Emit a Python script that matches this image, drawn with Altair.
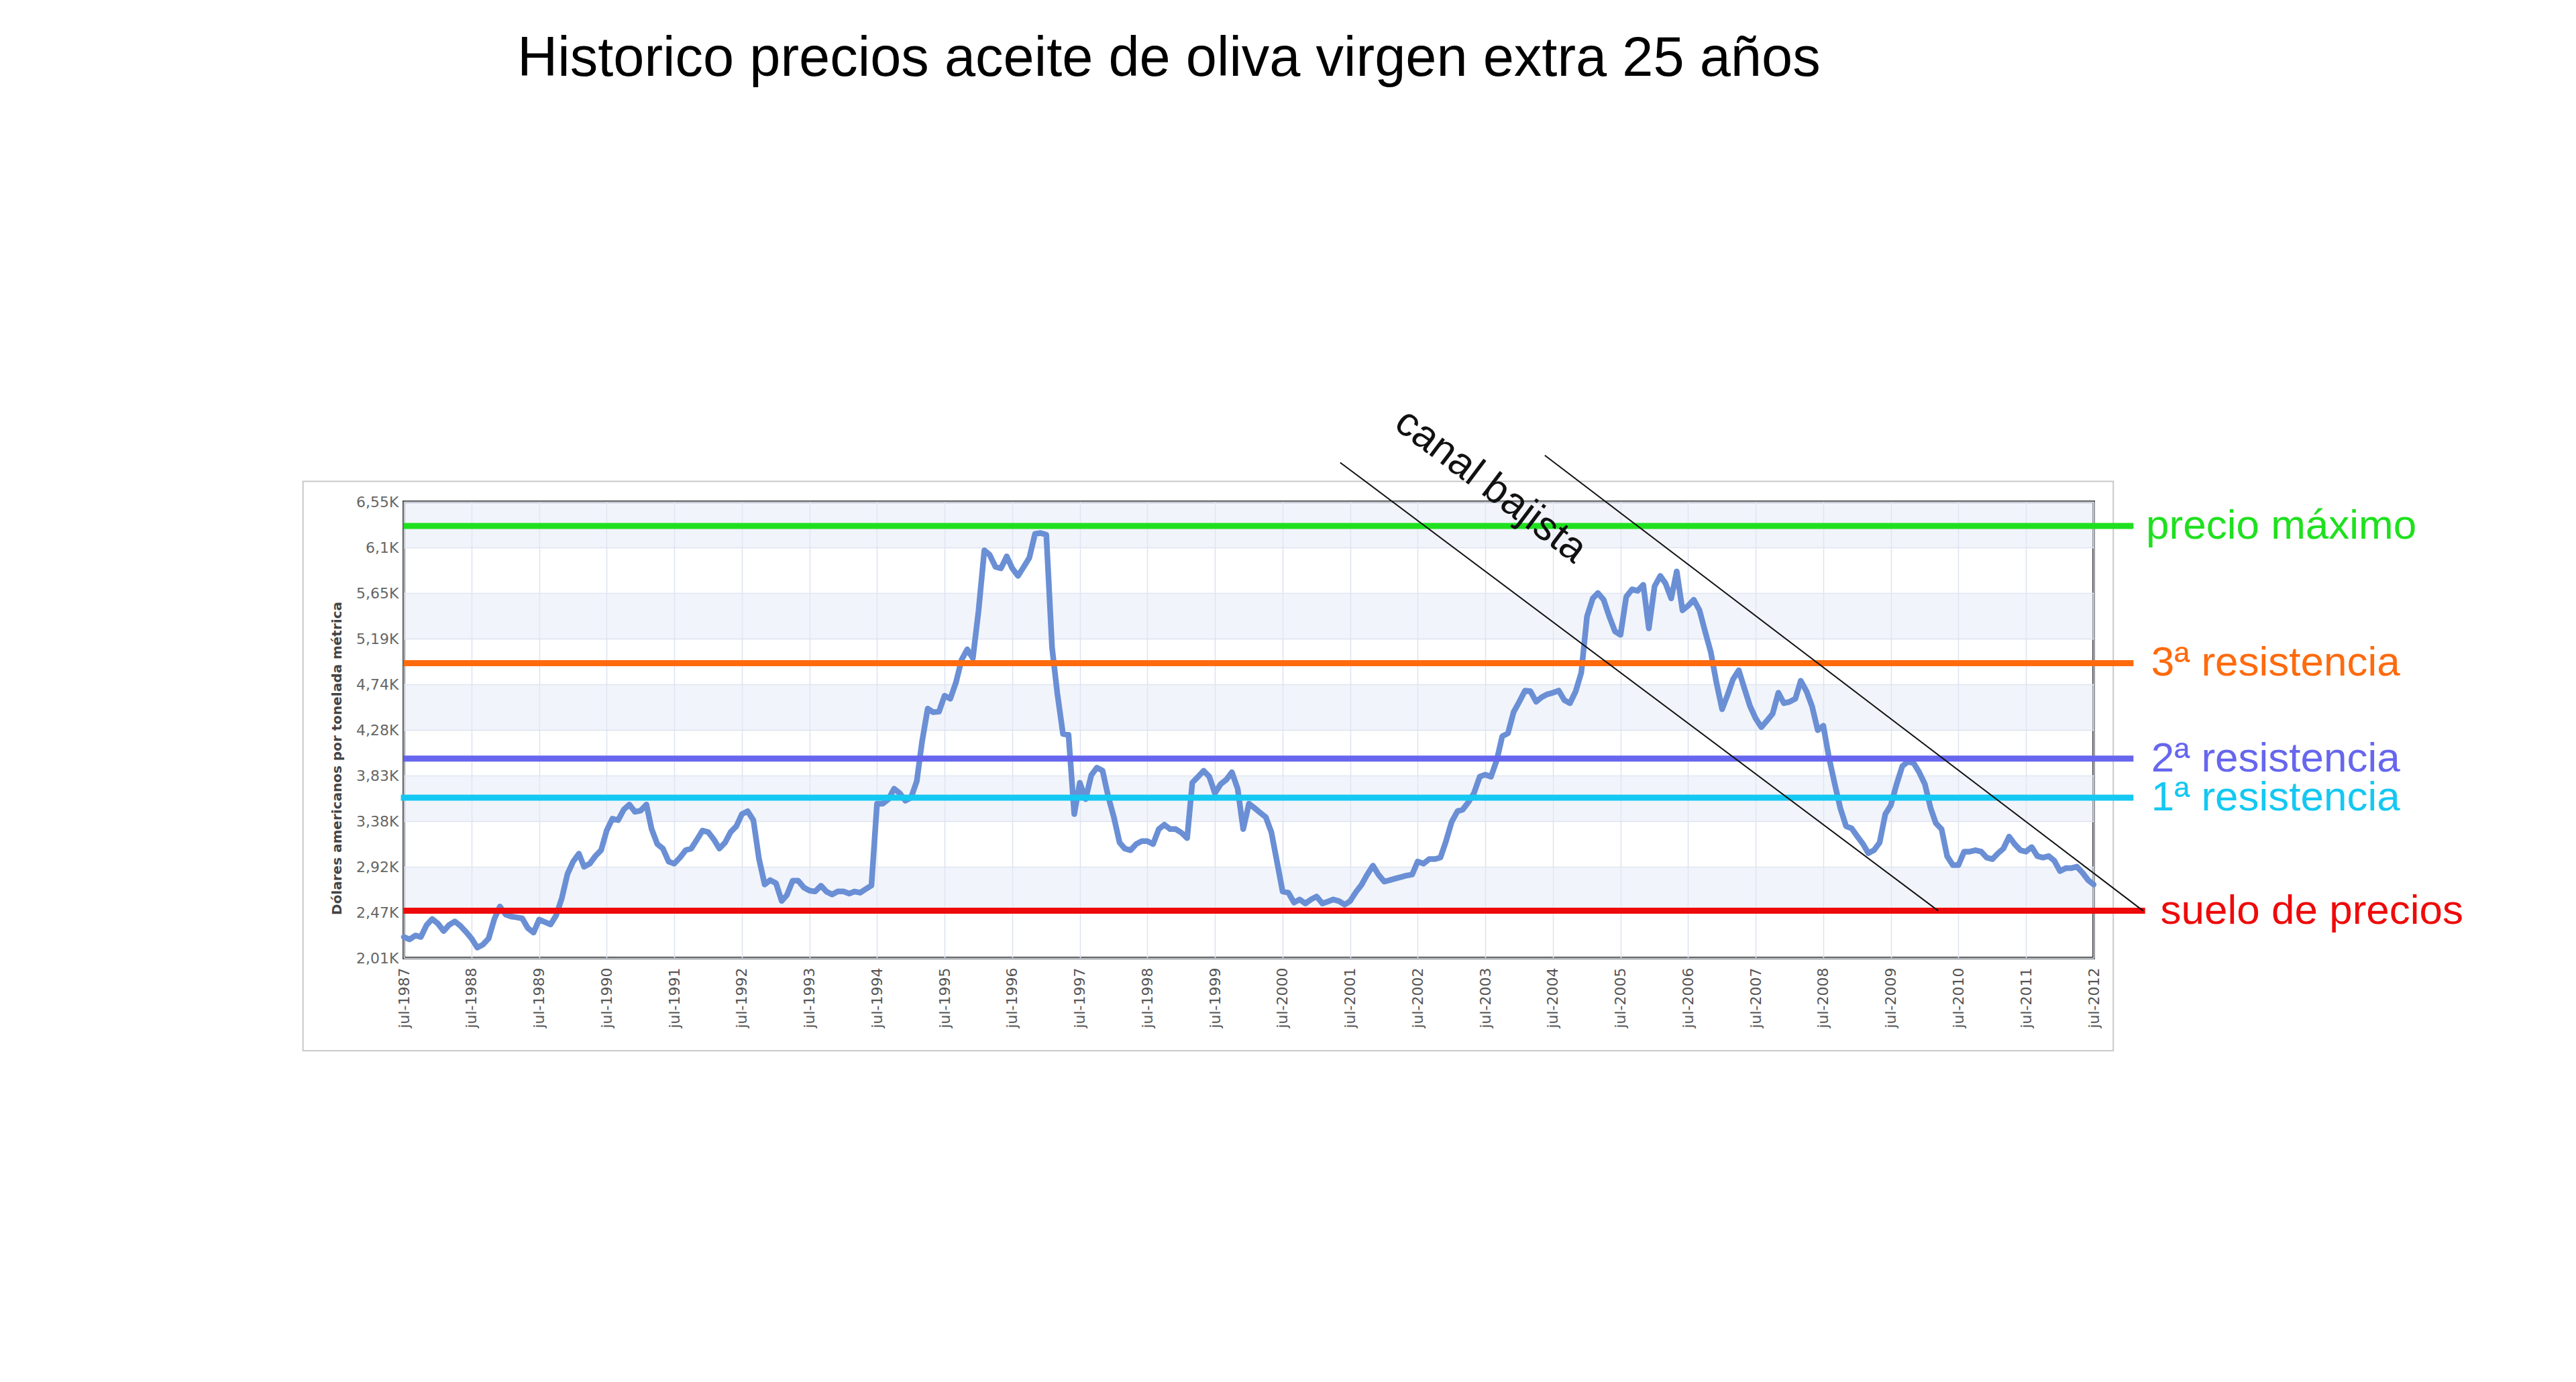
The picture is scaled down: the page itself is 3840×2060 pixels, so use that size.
import json
import altair as alt
import pandas as pd

# ---------------- data ----------------
START_MONTH = "1987-07-01"   # monthly series, jul-1987 .. jul-2012
price = [
    2219, 2195, 2234, 2219, 2338, 2398, 2353, 2278, 2338, 2374, 2332, 2270,
    2204, 2114, 2144, 2204, 2398, 2523, 2443, 2422, 2415, 2404, 2308, 2263,
    2392, 2368, 2344, 2434, 2607, 2845, 2970, 3048, 2918, 2949, 3024, 3083,
    3278, 3397, 3382, 3486, 3537, 3465, 3477, 3537, 3293, 3143, 3099, 2970,
    2949, 3009, 3083, 3099, 3188, 3278, 3263, 3188, 3099, 3158, 3263, 3322,
    3442, 3471, 3382, 3000, 2741, 2785, 2755, 2577, 2636, 2779, 2779, 2711,
    2681, 2672, 2730, 2670, 2642, 2672, 2672, 2651, 2672, 2660, 2696, 2732,
    3546, 3546, 3591, 3695, 3650, 3576, 3606, 3770, 4158, 4492, 4456, 4462,
    4620, 4590, 4754, 4978, 5082, 4993, 5470, 6067, 6022, 5903, 5888, 6007,
    5888, 5813, 5903, 5992, 6231, 6240, 6222, 5100, 4650, 4240, 4232, 3442,
    3755, 3591, 3829, 3904, 3874, 3621, 3412, 3158, 3099, 3083, 3143, 3173,
    3173, 3143, 3293, 3337, 3293, 3293, 3257, 3203, 3755, 3814, 3874, 3814,
    3650, 3740, 3785, 3859, 3695, 3293, 3546, 3501, 3457, 3412, 3263, 2964,
    2672, 2660, 2562, 2592, 2553, 2592, 2622, 2553, 2571, 2592, 2577, 2541,
    2577, 2666, 2740, 2840, 2929, 2840, 2771, 2785, 2800, 2815, 2830, 2840,
    2970, 2949, 2994, 2994, 3010, 3173, 3367, 3471, 3486, 3561, 3650, 3814,
    3835, 3814, 3978, 4217, 4247, 4456, 4560, 4671, 4665, 4560, 4605, 4635,
    4650, 4671, 4575, 4546, 4665, 4850, 5410, 5589, 5642, 5575, 5410, 5261,
    5226, 5604, 5679, 5664, 5724, 5291, 5709, 5813, 5739, 5589, 5858, 5470,
    5515, 5575, 5470, 5261, 5053, 4754, 4486, 4635, 4784, 4874, 4695, 4516,
    4396, 4307, 4373, 4441, 4650, 4546, 4560, 4590, 4769, 4665, 4516, 4277,
    4322, 4000, 3740, 3501, 3322, 3300, 3220, 3143, 3054, 3083, 3158, 3442,
    3531, 3740, 3919, 3964, 3949, 3859, 3740, 3501, 3352, 3293, 3024, 2934,
    2934, 3069, 3069, 3083, 3069, 3009, 2994, 3054, 3099, 3218, 3143, 3083,
    3069, 3114, 3024, 3009, 3024, 2979, 2875, 2904, 2904, 2919, 2860, 2785,
    2741,
]

y_tick_values = [2010, 2464, 2918, 3372, 3826, 4280, 4734, 5188, 5642, 6096, 6550]
y_tick_labels = ["2,01K", "2,47K", "2,92K", "3,38K", "3,83K", "4,28K",
                 "4,74K", "5,19K", "5,65K", "6,1K", "6,55K"]
x_tick_years = list(range(1987, 2013))

band_lo = [2464, 3372, 4280, 5188, 6096]
band_hi = [2918, 3826, 4734, 5642, 6550]

level_names = ["precio máximo", "3ª resistencia", "2ª resistencia",
               "1ª resistencia", "suelo de precios"]
level_values = [6310, 4945, 3995, 3605, 2480]
level_start = ["1987-07-01", "1987-07-01", "1987-07-01", "1987-06-15", "1987-07-01"]
level_end = ["2013-02-01", "2013-02-01", "2013-02-01", "2013-02-01", "2013-04-05"]
level_label_date = ["2013-04-10", "2013-05-08", "2013-05-08", "2013-05-08", "2013-06-27"]
level_colors = ["#1fe01f", "#ff6a0d", "#6666ee", "#14c8f2", "#ee0a0a"]

channel_start_date = ["2001-05-08", "2004-05-18"]
channel_start_value = [6941, 7012]
channel_end_date = ["2010-03-14", "2013-03-25"]
channel_end_value = [2480, 2480]

channel_label = ["canal bajista"]
channel_label_date = ["2003-07-30"]
channel_label_value = [6707]

frame_dates = ["1986-01-02", "2012-10-15"]
frame_values = [1087, 6754]

TITLE = "Historico precios aceite de oliva virgen extra 25 años"
Y_TITLE = "Dólares americanos por tonelada métrica"

# ---------------- tables ----------------
df_price = pd.DataFrame({
    "fecha": pd.date_range(START_MONTH, periods=len(price), freq="MS"),
    "precio": price,
})
df_bands = pd.DataFrame({
    "start": pd.to_datetime([START_MONTH] * len(band_lo)),
    "end": pd.to_datetime(["2012-07-01"] * len(band_lo)),
    "lo": band_lo, "hi": band_hi,
})
df_levels = pd.DataFrame({
    "name": level_names, "value": level_values,
    "start": pd.to_datetime(level_start), "end": pd.to_datetime(level_end),
    "label_date": pd.to_datetime(level_label_date),
})
df_channel = pd.DataFrame({
    "d0": pd.to_datetime(channel_start_date), "v0": channel_start_value,
    "d1": pd.to_datetime(channel_end_date), "v1": channel_end_value,
})
df_chlabel = pd.DataFrame({
    "d": pd.to_datetime(channel_label_date), "v": channel_label_value,
    "t": channel_label,
})
df_frame = pd.DataFrame({
    "d0": pd.to_datetime([frame_dates[0]]), "d1": pd.to_datetime([frame_dates[1]]),
    "v0": [frame_values[0]], "v1": [frame_values[1]],
})

x_scale = alt.Scale(domain=[alt.DateTime(year=1987, month=7, date=1),
                            alt.DateTime(year=2012, month=7, date=1)])
y_scale = alt.Scale(domain=[y_tick_values[0], y_tick_values[-1]], nice=False, zero=False)

x_axis = alt.Axis(
    values=[alt.DateTime(year=y, month=7, date=1) for y in x_tick_years],
    labelExpr="'jul-' + timeFormat(datum.value, '%Y')",
    labelAngle=270, labelAlign="right", labelBaseline="middle",
    labelFont="DejaVu Sans", labelFontSize=22, labelColor="#555555",
    labelPadding=14, ticks=False, domain=False, grid=True,
    gridColor="#dce2ef", gridWidth=1.5, title=None, labelOverlap=False,
)
y_axis = alt.Axis(
    values=y_tick_values,
    labelExpr=f"{json.dumps(y_tick_labels)}[indexof({json.dumps(y_tick_values)}, datum.value)]",
    labelFont="DejaVu Sans", labelFontSize=22, labelColor="#666666",
    labelPadding=8, ticks=False, domain=False, grid=True,
    gridColor="#dce2ef", gridWidth=1.5,
    title=Y_TITLE, titleFont="DejaVu Sans", titleFontSize=20,
    titleFontWeight="bold", titleColor="#444444", titlePadding=18,
    titleY=382, labelOverlap=False,
)


def X(field):
    return alt.X(field, scale=x_scale, axis=x_axis)


def Y(field):
    return alt.Y(field, scale=y_scale, axis=y_axis)


level_color = alt.Color("name:N", scale=alt.Scale(domain=level_names, range=level_colors),
                        legend=None)

frame = alt.Chart(df_frame).mark_rect(fillOpacity=0, stroke="#c8c8c8", strokeWidth=2).encode(
    x=X("d0:T"), x2="d1:T", y=Y("v0:Q"), y2="v1:Q",
)

bands = alt.Chart(df_bands).mark_rect(color="#e4e9f6", opacity=0.5).encode(
    x=X("start:T"), x2="end:T", y=Y("lo:Q"), y2="hi:Q",
)

line = alt.Chart(df_price).mark_line(
    color="#6a8fd5", strokeWidth=8.5, strokeJoin="round", strokeCap="round"
).encode(x=X("fecha:T"), y=Y("precio:Q"))

levels = alt.Chart(df_levels).mark_rule(strokeWidth=9).encode(
    x=X("start:T"), x2="end:T", y=Y("value:Q"), color=level_color,
)

level_text = alt.Chart(df_levels).mark_text(
    align="left", baseline="middle", font="Liberation Sans", fontSize=62
).encode(
    x=X("label_date:T"), y=Y("value:Q"), text="name:N", color=level_color,
)

channel = alt.Chart(df_channel).mark_rule(color="#111111", strokeWidth=2).encode(
    x=X("d0:T"), x2="d1:T", y=Y("v0:Q"), y2="v1:Q",
)

channel_text = alt.Chart(df_chlabel).mark_text(
    angle=37, font="Liberation Sans", fontSize=61, color="#111111",
    align="center", baseline="middle",
).encode(x=X("d:T"), y=Y("v:Q"), text="t:N")

chart = alt.layer(
    frame, bands, line, levels, level_text, channel, channel_text
).properties(
    width=2519, height=680,
    autosize=alt.AutoSizeParams(type="none"),
    padding={"left": 594, "top": 740, "right": 700, "bottom": 600},
    title=alt.TitleParams(
        TITLE, font="Liberation Sans", fontSize=83, fontWeight="normal",
        color="#000000", anchor="middle", frame="group", dx=-119, offset=468,
    ),
).configure_view(stroke="#4d4d4d", strokeWidth=4)

chart.save("out.html", embed_options={"renderer": "svg", "actions": False})
